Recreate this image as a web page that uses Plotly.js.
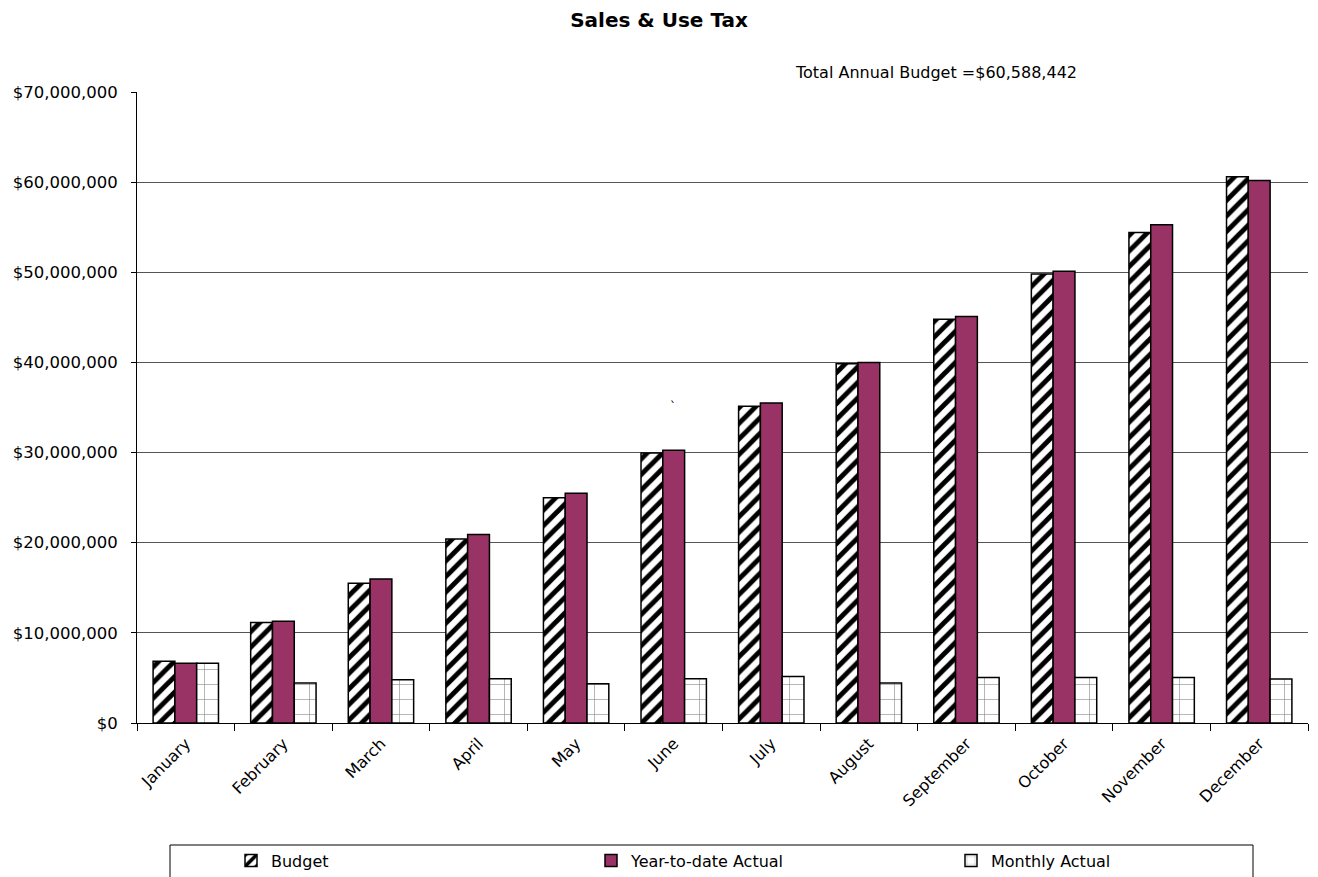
<!DOCTYPE html>
<html>
<head>
<meta charset="utf-8">
<script src="https://cdn.plot.ly/plotly-3.0.1.min.js"></script>
<style>
  html, body { margin: 0; padding: 0; background: #fff; }
  #chart { width: 1318px; height: 877px; }
</style>
</head>
<body>
<div id="chart"></div>
<script>
const months = ["January","February","March","April","May","June","July","August","September","October","November","December"];
const budget = [6860000, 11140000, 15500000, 20400000, 24980000, 29950000, 35130000, 39860000, 44800000, 49820000, 54400000, 60588442];
const ytdActual = [6640000, 11300000, 15980000, 20900000, 25500000, 30250000, 35500000, 40000000, 45100000, 50120000, 55260000, 60170000];
const monthlyActual = [6640000, 4430000, 4800000, 4900000, 4350000, 4900000, 5160000, 4430000, 5050000, 5050000, 5050000, 4870000];
const titleText = "Sales & Use Tax";
const annotationText = "Total Annual Budget =$60,588,442";

const fontFam = "DejaVu Sans, Arial, sans-serif";
const outline = {color: "#000", width: 1.5};

const traces = [
  {
    type: "bar", name: "Budget", x: months, y: budget,
    marker: {color: "#ffffff", line: outline,
      pattern: {shape: "/", fgcolor: "#000", bgcolor: "#ffffff", size: 11, solidity: 0.45}}
  },
  {
    type: "bar", name: "Year-to-date Actual", x: months, y: ytdActual,
    marker: {color: "#993366", line: outline}
  },
  {
    type: "bar", name: "Monthly Actual", x: months, y: monthlyActual,
    marker: {color: "#ffffff", line: outline,
      pattern: {shape: "+", fgcolor: "#888", bgcolor: "#ffffff", size: 15, solidity: 0.08}}
  }
];

const layout = {
  width: 1318, height: 877,
  paper_bgcolor: "#fff", plot_bgcolor: "#fff",
  margin: {l: 137, r: 10, t: 92, b: 154, autoexpand: false},
  font: {family: fontFam, size: 15, color: "#000"},
  title: {text: "<b>" + titleText + "</b>", x: 0.5, xanchor: "center", y: 0.977, yanchor: "middle",
          font: {family: fontFam, size: 20, color: "#000"}},
  barmode: "group",
  bargap: 0.33,
  bargroupgap: 0,
  showlegend: true,
  legend: {
    orientation: "h", x: (231-137)/1171, xanchor: "left", y: -0.218, yanchor: "middle",
    entrywidth: 315, entrywidthmode: "pixels",
    font: {family: fontFam, size: 16, color: "#000"},
    bgcolor: "rgba(0,0,0,0)", itemclick: false, itemdoubleclick: false
  },
  xaxis: {
    type: "category",
    tickangle: -45,
    tickson: "boundaries",
    ticks: "outside", ticklen: 7, tickcolor: "#000", tickwidth: 1,
    showline: true, linecolor: "#000", linewidth: 1,
    showgrid: false, zeroline: false,
    ticklabelstandoff: 4,
    tickfont: {family: fontFam, size: 16, color: "#000"}
  },
  yaxis: {
    range: [0, 70000000],
    tickvals: [0,10000000,20000000,30000000,40000000,50000000,60000000,70000000],
    tickformat: "$,.0f",
    ticks: "outside", ticklen: 5, tickcolor: "#000",
    showline: true, linecolor: "#000", linewidth: 1,
    showgrid: true, gridcolor: "#555", gridwidth: 1,
    zeroline: false,
    ticklabelstandoff: 10,
    tickfont: {family: fontFam, size: 16.5, color: "#000"}
  },
  shapes: [
    {type: "rect", xref: "paper", yref: "paper",
     x0: (170-137)/1171, x1: (1253-137)/1171, y0: -0.245, y1: (723-845)/631,
     line: {color: "#000", width: 1}, fillcolor: "rgba(0,0,0,0)"}
  ],
  annotations: [
    {text: annotationText, xref: "paper", yref: "paper",
     x: (936-137)/1171, y: (723-73)/631, xanchor: "center", yanchor: "middle",
     showarrow: false, font: {family: fontFam, size: 16, color: "#000"}},
    {text: "`", xref: "paper", yref: "paper",
     x: (673-137)/1171, y: (723-407)/631, xanchor: "center", yanchor: "middle",
     showarrow: false, font: {family: fontFam, size: 12, color: "#000"}}
  ]
};

Plotly.newPlot("chart", traces, layout, {displayModeBar: false, staticPlot: true});
</script>
</body>
</html>
